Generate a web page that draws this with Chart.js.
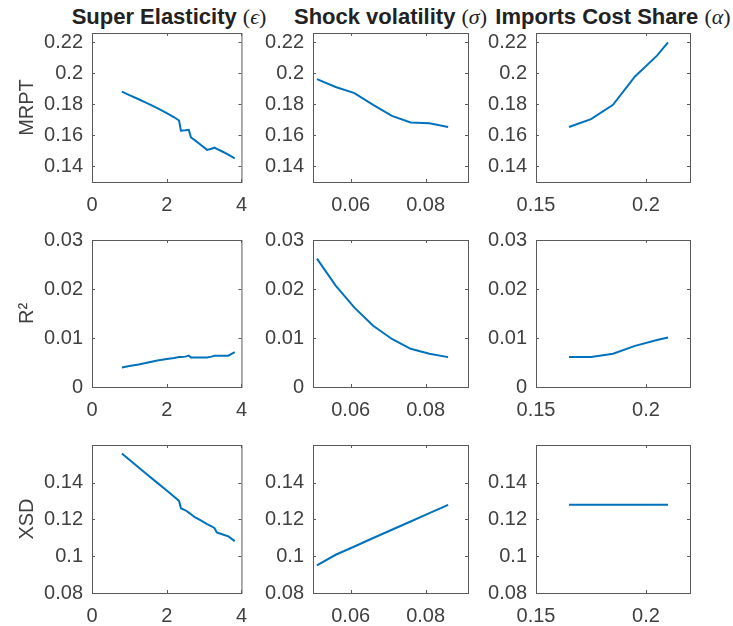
<!DOCTYPE html>
<html>
<head>
<meta charset="utf-8">
<script src="https://cdn.jsdelivr.net/npm/chart.js@4.4.1/dist/chart.umd.min.js"></script>
<style>
  html, body { margin: 0; padding: 0; background: #fff; }
  #wrap { position: relative; width: 733px; height: 626px; overflow: hidden; }
  canvas { position: absolute; }
  .ttl { position: absolute; width: 320px; text-align: center; top: 4px; line-height: 26px;
         font: bold 22px "Liberation Sans", Arial, sans-serif; color: #222; white-space: nowrap; }
  .ttl .m { font-family: "Liberation Serif", "DejaVu Serif", serif; font-weight: normal; }
</style>
</head>
<body>
<div id="wrap"></div>
<script>
// Super elasticity (epsilon)
const superX    = [0.8, 1.0, 1.25, 1.5, 1.75, 2.0, 2.2, 2.33, 2.38, 2.5, 2.59, 2.65, 2.75, 2.9, 3.08, 3.2, 3.28, 3.34, 3.5, 3.65, 3.82]
const superMRPT = [0.188, 0.1858, 0.1831, 0.1803, 0.1774, 0.1741, 0.1715, 0.1694, 0.1628, 0.1631, 0.1634, 0.1585, 0.1568, 0.1540, 0.1505, 0.1512, 0.1520, 0.1512, 0.1493, 0.1475, 0.1450]
const superR2   = [0.0040, 0.0043, 0.0046, 0.0050, 0.0054, 0.0057, 0.0059, 0.0061, 0.0061, 0.0062, 0.0064, 0.0060, 0.0060, 0.0060, 0.0060, 0.0062, 0.0064, 0.0064, 0.0064, 0.0064, 0.0071]
const superXSD  = [0.1559, 0.1525, 0.1483, 0.1441, 0.1399, 0.1357, 0.1323, 0.1301, 0.1261, 0.1250, 0.1237, 0.1228, 0.1213, 0.1196, 0.1175, 0.1163, 0.1153, 0.1129, 0.1118, 0.1108, 0.1082]

// Shock volatility (sigma)
const volX    = [0.051, 0.056, 0.061, 0.066, 0.071, 0.076, 0.081, 0.086]
const volMRPT = [0.1961, 0.1910, 0.1871, 0.1795, 0.1724, 0.1681, 0.1677, 0.1652]
const volR2   = [0.0262, 0.0207, 0.0162, 0.0125, 0.0098, 0.0078, 0.0068, 0.0061]
const volXSD  = [0.0950, 0.1008, 0.1053, 0.1099, 0.1144, 0.1189, 0.1234, 0.1279]

// Imports cost share (alpha)
const alphaX    = [0.165, 0.175, 0.185, 0.195, 0.205, 0.21]
const alphaMRPT = [0.1652, 0.1703, 0.1795, 0.1978, 0.2112, 0.2197]
const alphaR2   = [0.0061, 0.0061, 0.0068, 0.0084, 0.0096, 0.0101]
const alphaXSD  = [0.128, 0.128, 0.128, 0.128, 0.128, 0.128]

const colTitles = [["Super Elasticity ", "\u03f5"], ["Shock volatility ", "\u03c3"], ["Imports Cost Share ", "\u03b1"]]
const rowLabels = ["MRPT", "R\u00b2", "XSD"]
const xTicks = [[0, 2, 4], [0.06, 0.08], [0.15, 0.2]]
const yTicks = [[0.14, 0.16, 0.18, 0.2, 0.22], [0, 0.01, 0.02, 0.03], [0.08, 0.1, 0.12, 0.14]]
const xs = [superX, volX, alphaX]
const series = [
    [superMRPT, volMRPT, alphaMRPT],
    [superR2, volR2, alphaR2],
    [superXSD, volXSD, alphaXSD]
]

// layout of the axes boxes (pixels)
const colLeft = [92, 313, 536], colRight = [246, 468, 690]
const rowTop = [33, 240, 445], rowBottom = [182, 387, 593]
const xRange = [[0, 4], [0.04995, 0.0913], [0.15, 0.22]]
const yRange = [[0.1298, 0.2258], [0, 0.03], [0.08, 0.1605]]

const AXW = 92, TOP = 33, XH = 42, RIGHT = 12
const textColor = "#404040"
const font = { family: "'Liberation Sans', Arial, sans-serif", size: 20 }

const boxPlugin = {
    id: "box",
    afterDraw(chart) {
        const { ctx, chartArea: a, scales: { x, y } } = chart
        ctx.save()
        ctx.strokeStyle = "#5a5a5a"
        ctx.lineWidth = 1
        ctx.strokeRect(a.left + 0.5, a.top + 0.5, a.right - a.left, a.bottom - a.top)
        ctx.beginPath()
        x.ticks.forEach(t => {
            const px = Math.round(x.getPixelForValue(t.value)) + 0.5
            ctx.moveTo(px, a.bottom); ctx.lineTo(px, a.bottom - 3)
            ctx.moveTo(px, a.top); ctx.lineTo(px, a.top + 3)
        })
        y.ticks.forEach(t => {
            const py = Math.round(y.getPixelForValue(t.value)) + 0.5
            ctx.moveTo(a.left, py); ctx.lineTo(a.left + 3, py)
            ctx.moveTo(a.right, py); ctx.lineTo(a.right - 3, py)
        })
        ctx.stroke()
        ctx.restore()
    }
}

const fmt = v => String(parseFloat(Number(v).toFixed(4)))
const wrap = document.getElementById("wrap")

for (let c = 0; c < 3; c++) {
    const t = document.createElement("div")
    t.className = "ttl"
    t.style.left = ((colLeft[c] + colRight[c]) / 2 - 160) + "px"
    t.innerHTML = colTitles[c][0] + '<span class="m">(<i>' + colTitles[c][1] + '</i>)</span>'
    wrap.appendChild(t)
}

for (let r = 0; r < 3; r++) {
    for (let c = 0; c < 3; c++) {
        const w = colRight[c] - colLeft[c], h = rowBottom[r] - rowTop[r]
        const cv = document.createElement("canvas")
        cv.width = AXW + w + RIGHT
        cv.height = TOP + h + XH
        cv.style.left = (colLeft[c] - AXW) + "px"
        cv.style.top = (rowTop[r] - TOP) + "px"
        wrap.appendChild(cv)

        const pts = xs[c].map((xv, i) => ({ x: xv, y: series[r][c][i] }))
        new Chart(cv, {
            type: "line",
            data: {
                datasets: [{
                    data: pts,
                    borderColor: "#0072BD",
                    borderWidth: 2,
                    pointRadius: 0,
                    tension: 0,
                    fill: false
                }]
            },
            options: {
                responsive: false,
                animation: false,
                layout: { padding: { left: 0, top: TOP, right: RIGHT, bottom: 0 } },
                plugins: { legend: { display: false }, tooltip: { enabled: false } },
                scales: {
                    x: {
                        type: "linear",
                        min: xRange[c][0], max: xRange[c][1],
                        grid: { display: false, drawTicks: false },
                        border: { display: false },
                        afterBuildTicks: s => { s.ticks = xTicks[c].map(v => ({ value: v })) },
                        afterFit: s => { s.height = XH },
                        ticks: { color: textColor, font: font, padding: 11, maxRotation: 0, callback: fmt }
                    },
                    y: {
                        type: "linear",
                        min: yRange[r][0], max: yRange[r][1],
                        grid: { display: false, drawTicks: false },
                        border: { display: false },
                        afterBuildTicks: s => { s.ticks = yTicks[r].map(v => ({ value: v })) },
                        afterFit: s => { s.width = AXW },
                        ticks: { color: textColor, font: font, padding: 9, callback: fmt },
                        title: {
                            display: c === 0,
                            text: rowLabels[r],
                            color: textColor,
                            font: font,
                            padding: { top: 15, bottom: 0 }
                        }
                    }
                }
            },
            plugins: [boxPlugin]
        })
    }
}
</script>
</body>
</html>
